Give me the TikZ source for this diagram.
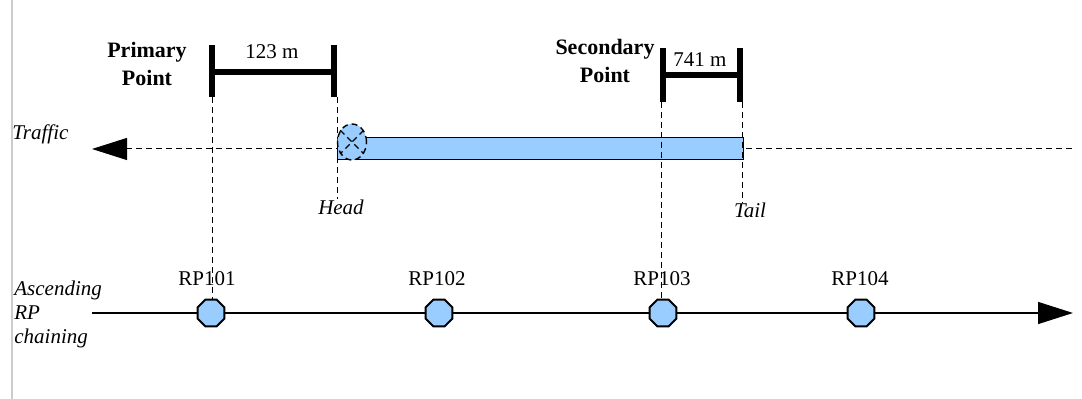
\documentclass[tikz,border=0pt]{standalone}
\usepackage{fontspec}
\setmainfont{Liberation Serif}
\usetikzlibrary{shapes.geometric,arrows.meta}
\definecolor{myqueuecolor}{HTML}{99CCFF}
\tikzset{
  dimbar/.style={line width=3pt},
  guide/.style={dash pattern=on 3pt off 2pt, line width=0.5pt},
  flow/.style={-{Triangle[length=17.5pt,width=11pt]}},
  rpoint/.style={draw, line width=1pt, fill=myqueuecolor, regular polygon, regular polygon sides=8, minimum size=14.5pt, inner sep=0pt},
  txt/.style={inner sep=0pt}
}

\begin{document}
\begin{tikzpicture}[x=0.5pt, y=-0.5pt]%
\useasboundingbox (0,0) rectangle (1082,399);%
\draw[gray!40, line width=1pt] (11.5,0) -- (11.5,399);%
% traffic line and queue
\coordinate (trafficend) at (1072,149);%
\coordinate (traffictip) at (92,149);%
\draw[guide, flow] (trafficend) -- (traffictip);%
\node[txt, anchor=west] (traffic) at (12,134) {\fontsize{10.5pt}{12pt}\selectfont\itshape Traffic};%
\node[draw, fill=myqueuecolor, line width=0.5pt, minimum width=203pt, minimum height=11pt, inner sep=0pt] (queue) at (540,149) {};%
% RP chaining
\coordinate (rpstart) at (92,313);%
\coordinate (rptip) at (1073,313);%
\draw[line width=0.7pt, flow] (rpstart) -- (rptip);%
\node[txt, anchor=west, align=left, font=\fontsize{10.5pt}{12pt}\selectfont\itshape] (chaining) at (14,314) {Ascending\\RP\\chaining};%
\node[rpoint] (rp1) at (211,313) {};%
\node[rpoint] (rp2) at (439,313) {};%
\node[rpoint] (rp3) at (663,313) {};%
\node[rpoint] (rp4) at (861,313) {};%
\node[txt] (rp1lbl) at (207,279) {\fontsize{10.5pt}{12pt}\selectfont RP101};%
\node[txt] (rp2lbl) at (437,279) {\fontsize{10.5pt}{12pt}\selectfont RP102};%
\node[txt] (rp3lbl) at (662,279) {\fontsize{10.5pt}{12pt}\selectfont RP103};%
\node[txt] (rp4lbl) at (860,279) {\fontsize{10.5pt}{12pt}\selectfont RP104};%
% primary point
\coordinate (p1top) at (212,45);%
\coordinate (p1bot) at (212,97);%
\coordinate (p2top) at (334,45);%
\coordinate (p2bot) at (334,97);%
\draw[dimbar] (p1top) -- (p1bot);%
\draw[dimbar] (p2top) -- (p2bot);%
\draw[dimbar] (212,72.5) -- (334,72.5);%
\node[txt, align=center, font=\fontsize{11pt}{14pt}\selectfont\bfseries] (primary) at (147,64) {Primary\\Point};%
\node[txt] (dist1) at (272,52) {\fontsize{10.5pt}{12pt}\selectfont 123 m};%
% secondary point
\coordinate (s1top) at (663,48);%
\coordinate (s1bot) at (663,102);%
\coordinate (s2top) at (740,48);%
\coordinate (s2bot) at (740,102);%
\draw[dimbar] (s1top) -- (s1bot);%
\draw[dimbar] (s2top) -- (s2bot);%
\draw[dimbar] (663,75) -- (740,75);%
\node[txt, align=center, font=\fontsize{11pt}{14pt}\selectfont\bfseries] (secondary) at (605,61) {Secondary\\Point};%
\node[txt] (dist2) at (700,60) {\fontsize{10.5pt}{12pt}\selectfont 741 m};%
% head and tail
\node[txt] (headlbl) at (341,207) {\fontsize{10.5pt}{12pt}\selectfont\itshape Head};%
\node[txt] (taillbl) at (750,210) {\fontsize{10.5pt}{12pt}\selectfont\itshape Tail};%
\draw[guide] (p1bot) -- (p1bot |- rp1.north);%
\draw[guide] (337,97) -- (337,97 |- headlbl.north);%
\draw[guide] (661,102) -- (661,102 |- rp3.north);%
\draw[guide] (742,102) -- (742,102 |- taillbl.north);%
\node[draw, densely dashed, line width=0.7pt, fill=myqueuecolor, ellipse, minimum width=14.5pt, minimum height=18pt, inner sep=0pt] (head) at (352,142) {};%
\draw[densely dashed, line width=0.6pt] (head.135) -- (head.-45);%
\draw[densely dashed, line width=0.6pt] (head.45) -- (head.-135);%
\end{tikzpicture}
\end{document}
